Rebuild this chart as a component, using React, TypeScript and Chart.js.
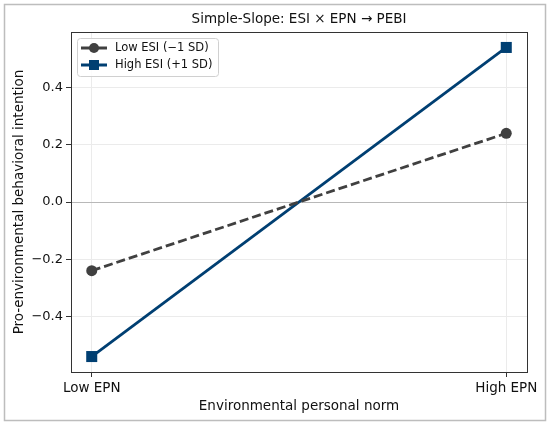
import { useEffect, useRef } from "react"
import { Chart, registerables } from "chart.js"

Chart.register(...registerables)

const categories = ["Low EPN", "High EPN"]
const lowEsi = [-0.24, 0.24]
const highEsi = [-0.54, 0.54]
const yTicks = [-0.4, -0.2, 0, 0.2, 0.4]

const titleText = "Simple-Slope: ESI × EPN → PEBI"
const xTitle = "Environmental personal norm"
const yTitle = "Pro-environmental behavioral intention"
const lowLabel = "Low ESI (\u22121 SD)"
const highLabel = "High ESI (+1 SD)"

const FONT = "'DejaVu Sans', sans-serif"
const LOW_COLOR = "#404040"
const HIGH_COLOR = "#003f72"

const fmt = (v: number) => {
  const s = Math.abs(v).toFixed(1)
  return v < -1e-9 ? "\u2212" + s : s
}

// title, frame, spines and in-plot legend
const decorations = {
  id: "decorations",
  afterDraw(chart: Chart) {
    const { ctx, chartArea } = chart
    ctx.save()
    // outer figure border
    ctx.strokeStyle = "#bdbdbd"
    ctx.lineWidth = 1.5
    ctx.strokeRect(4.5, 4.5, 541, 416)

    // spines
    ctx.strokeStyle = "#333"
    ctx.lineWidth = 1
    ctx.strokeRect(
      Math.round(chartArea.left) + 0.5,
      Math.round(chartArea.top) + 0.5,
      Math.round(chartArea.width),
      Math.round(chartArea.height)
    )

    // title
    ctx.fillStyle = "#111"
    ctx.font = `13.5px ${FONT}`
    ctx.textAlign = "center"
    ctx.textBaseline = "middle"
    ctx.fillText(titleText, (chartArea.left + chartArea.right) / 2, 19)

    // legend box
    const bx = chartArea.left + 6
    const by = chartArea.top + 6
    const bw = 141
    const bh = 38
    ctx.beginPath()
    ctx.roundRect(bx + 0.5, by + 0.5, bw, bh, 3)
    ctx.fillStyle = "rgba(255,255,255,0.85)"
    ctx.fill()
    ctx.strokeStyle = "#d0d0d0"
    ctx.lineWidth = 1
    ctx.stroke()

    const rows = [
      { label: lowLabel, color: LOW_COLOR, marker: "circle" },
      { label: highLabel, color: HIGH_COLOR, marker: "rect" },
    ]
    rows.forEach((r, i) => {
      const cy = by + 10 + i * 17
      ctx.strokeStyle = r.color
      ctx.lineWidth = 3
      ctx.setLineDash([])
      ctx.beginPath()
      ctx.moveTo(bx + 4, cy)
      ctx.lineTo(bx + 30, cy)
      ctx.stroke()
      ctx.fillStyle = r.color
      if (r.marker === "circle") {
        ctx.beginPath()
        ctx.arc(bx + 17, cy, 5, 0, Math.PI * 2)
        ctx.fill()
      } else {
        ctx.fillRect(bx + 12, cy - 5, 10, 10)
      }
      ctx.fillStyle = "#111"
      ctx.font = `11.5px ${FONT}`
      ctx.textAlign = "left"
      ctx.textBaseline = "middle"
      ctx.fillText(r.label, bx + 38, cy)
    })
    ctx.restore()
  },
}

export default function App() {
  const canvasRef = useRef<HTMLCanvasElement>(null)

  useEffect(() => {
    document.body.style.margin = "0"
    if (!canvasRef.current) return
    const ctx = canvasRef.current.getContext("2d")
    if (!ctx) return

    const chart = new Chart(ctx, {
      type: "line",
      data: {
        datasets: [
          {
            label: lowLabel,
            data: lowEsi.map((y, i) => ({ x: i, y })),
            borderColor: LOW_COLOR,
            backgroundColor: LOW_COLOR,
            borderWidth: 2.8,
            borderDash: [9, 4],
            pointStyle: "circle",
            pointRadius: 5.5,
            pointBorderWidth: 0,
            tension: 0,
          },
          {
            label: highLabel,
            data: highEsi.map((y, i) => ({ x: i, y })),
            borderColor: HIGH_COLOR,
            backgroundColor: HIGH_COLOR,
            borderWidth: 2.8,
            pointStyle: "rect",
            pointRadius: 7.8,
            pointBorderWidth: 0,
            tension: 0,
          },
        ],
      },
      options: {
        animation: false,
        responsive: false,
        devicePixelRatio: 1,
        layout: { padding: { left: 7, right: 23, top: 32, bottom: 8 } },
        plugins: {
          legend: { display: false },
          title: { display: false },
          tooltip: { enabled: false },
        },
        scales: {
          x: {
            type: "linear",
            min: -0.05,
            max: 1.05,
            afterBuildTicks: (scale: any) => {
              scale.ticks = categories.map((_, i) => ({ value: i }))
            },
            afterFit: (scale: any) => {
              scale.height = 47
            },
            ticks: {
              callback: (v: any) => categories[Number(v)] ?? "",
              color: "#111",
              font: { family: FONT, size: 13.5 },
              padding: 3,
              maxRotation: 0,
            },
            grid: {
              color: "#ebebeb",
              tickColor: "#333",
              tickLength: 5,
            },
            border: { display: false },
            title: {
              display: true,
              text: xTitle,
              color: "#111",
              font: { family: FONT, size: 13.5 },
              padding: { top: 4, bottom: 4 },
            },
          },
          y: {
            type: "linear",
            min: -0.594,
            max: 0.594,
            afterBuildTicks: (scale: any) => {
              scale.ticks = yTicks.map((value) => ({ value }))
            },
            afterFit: (scale: any) => {
              scale.width = 64
            },
            ticks: {
              callback: (v: any) => fmt(Number(v)),
              color: "#111",
              font: { family: FONT, size: 13 },
              padding: 3,
            },
            grid: {
              color: (c: any) => (c.tick && Math.abs(c.tick.value) < 1e-9 ? "#b8b8b8" : "#ebebeb"),
              tickColor: "#333",
              tickLength: 5,
            },
            border: { display: false },
            title: {
              display: true,
              text: yTitle,
              color: "#111",
              font: { family: FONT, size: 13.5 },
              padding: { top: 4, bottom: 4 },
            },
          },
        },
      },
      plugins: [decorations],
    })

    return () => {
      chart.destroy()
    }
  }, [])

  return <canvas ref={canvasRef} width={550} height={427} style={{ display: "block" }} />
}
